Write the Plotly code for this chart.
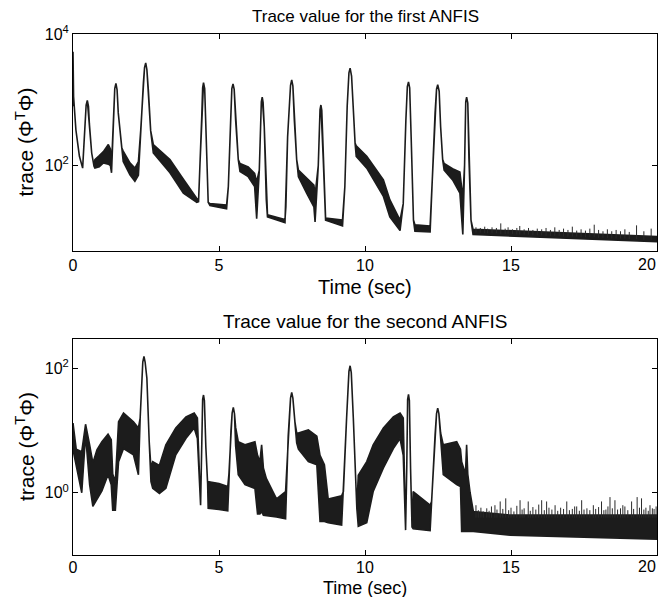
import numpy as np
import plotly.graph_objects as go

# ---------------- data (log10 of trace) ----------------
# First ANFIS: time points and upper edge of the trace
top_t = [0.00, 0.02, 0.10, 0.22, 0.33, 0.40, 0.45, 0.49, 0.53, 0.56, 0.64, 0.72, 0.75, 0.90, 1.04, 1.21,
         1.28, 1.32, 1.38, 1.43, 1.47, 1.51, 1.55, 1.67, 1.72, 1.95, 2.12, 2.24, 2.32, 2.41, 2.45, 2.49,
         2.53, 2.58, 2.66, 2.75, 3.32, 3.78, 4.24, 4.30, 4.35, 4.41, 4.44, 4.47, 4.51, 4.55, 4.63, 4.69,
         5.26, 5.32, 5.40, 5.44, 5.48, 5.52, 5.57, 5.66, 5.72, 6.00, 6.22, 6.29, 6.38, 6.43, 6.45, 6.48,
         6.51, 6.55, 6.62, 6.66, 7.26, 7.29, 7.35, 7.45, 7.49, 7.53, 7.58, 7.66, 7.72, 8.00, 8.25, 8.29,
         8.40, 8.46, 8.49, 8.52, 8.57, 8.65, 9.23, 9.31, 9.39, 9.45, 9.49, 9.54, 9.62, 9.66, 9.70, 10.06,
         10.63, 10.85, 11.20, 11.31, 11.40, 11.45, 11.49, 11.53, 11.58, 11.66, 11.71, 12.23, 12.32, 12.40,
         12.45, 12.49, 12.54, 12.59, 12.66, 12.71, 13.00, 13.25, 13.35, 13.41, 13.45, 13.48, 13.52, 13.56,
         13.63, 13.70, 20.00]
top_hi = [3.73, 3.05, 2.54, 2.14, 1.96, 2.53, 2.92, 2.99, 2.90, 2.64, 2.19, 1.99, 2.09, 2.15, 2.21, 2.32,
          2.25, 2.00, 2.53, 3.17, 3.25, 3.15, 2.80, 2.27, 2.22, 2.04, 1.96, 2.06, 2.54, 3.25, 3.49, 3.56,
          3.46, 3.15, 2.53, 2.32, 2.09, 1.79, 1.50, 1.46, 2.04, 2.75, 3.18, 3.26, 3.17, 2.64, 1.44, 1.42,
          1.40, 1.68, 2.69, 3.17, 3.24, 3.16, 2.69, 2.09, 2.03, 1.98, 1.88, 1.75, 1.93, 2.69, 2.97, 3.04,
          2.96, 2.59, 1.48, 1.25, 1.18, 1.37, 2.44, 3.22, 3.30, 3.21, 2.69, 2.09, 1.93, 1.80, 1.70, 1.55,
          2.00, 2.85, 2.92, 2.84, 2.10, 1.20, 1.17, 1.68, 2.90, 3.41, 3.48, 3.36, 2.69, 2.34, 2.30, 2.14,
          1.78, 1.48, 1.17, 1.42, 2.69, 3.20, 3.27, 3.18, 2.44, 1.17, 1.10, 1.08, 1.93, 2.80,
          3.16, 3.23, 3.13, 2.59, 2.09, 2.03, 1.95, 1.90, 1.50, 2.00, 2.97, 3.04, 2.95, 2.10,
          1.17, 1.03, 0.92]
# lower edge where the trace is a noisy band (elsewhere lower edge = upper edge)
top_band_t = [0.00, 0.75, 0.90, 1.04, 1.21, 1.28, 1.32, 1.72, 1.95, 2.12, 2.24, 2.75, 3.32, 3.78, 4.24,
              4.30, 4.69, 5.26, 5.72, 6.00, 6.22, 6.29, 6.66, 7.26, 7.72, 8.00, 8.25, 8.29, 8.65, 9.23,
              9.70, 10.06, 10.63, 10.85, 11.20, 11.71, 12.23, 12.71, 13.00, 13.25, 13.35, 13.70, 20.00]
top_band_lo = [2.90, 1.96, 1.98, 2.04, 2.02, 2.00, 1.89, 2.06, 1.86, 1.76, 1.85, 2.19, 1.89, 1.58, 1.44,
               1.45, 1.39, 1.34, 1.91, 1.83, 1.68, 1.19, 1.22, 1.13, 1.83, 1.58, 1.37, 1.14, 1.17, 1.08,
               2.14, 1.96, 1.53, 1.22, 1.01, 1.00, 0.99, 1.93, 1.78, 1.58, 0.95, 0.95, 0.84]
# noise spikes on the final floor of the first trace
top_spk_t = [13.8, 13.95, 14.1, 14.2, 14.35, 14.5, 14.65, 14.8, 14.9, 15.05, 15.2, 15.3, 15.45, 15.6,
             15.75, 15.9, 16.05, 16.2, 16.35, 16.5, 16.65, 16.8, 16.95, 17.1, 17.25, 17.4, 17.55, 17.7,
             17.85, 18.0, 18.15, 18.3, 18.45, 18.6, 18.75, 18.9, 19.05, 19.3, 19.55, 19.8]
top_spk_base = [0.98, 0.98, 0.97, 0.97, 0.97, 0.97, 0.96, 0.96, 0.96, 0.96, 0.95, 0.95, 0.95, 0.95,
                0.94, 0.94, 0.94, 0.93, 0.93, 0.93, 0.93, 0.92, 0.92, 0.92, 0.92, 0.91, 0.91, 0.91,
                0.91, 0.90, 0.90, 0.90, 0.89, 0.89, 0.89, 0.89, 0.88, 0.88, 0.87, 0.87]
top_spk_top = [1.06, 1.05, 1.07, 1.04, 1.06, 1.05, 1.12, 1.04, 1.06, 1.03, 1.05, 1.08, 1.03, 1.05,
               1.02, 1.04, 1.03, 1.05, 1.02, 1.06, 1.02, 1.04, 1.02, 1.07, 1.01, 1.03, 1.01, 1.04,
               1.10, 1.02, 1.00, 1.03, 1.00, 1.02, 1.00, 1.03, 0.99, 1.09, 1.00, 1.04]

# Second ANFIS
bot_t = [0.00, 0.11, 0.30, 0.43, 0.57, 0.68, 0.82, 0.99, 1.20, 1.31, 1.36, 1.45, 1.56, 1.73, 2.07, 2.24,
         2.30, 2.35, 2.39, 2.43, 2.47, 2.53, 2.61, 2.67, 2.73, 2.96, 3.18, 3.52, 3.87, 4.15, 4.26, 4.37,
         4.44, 4.47, 4.50, 4.55, 4.61, 4.63, 5.00, 5.30, 5.34, 5.41, 5.45, 5.49, 5.53, 5.57, 5.66, 5.89,
         6.23, 6.32, 6.40, 6.46, 6.52, 6.62, 6.97, 7.28, 7.37, 7.45, 7.49, 7.53, 7.60, 7.66, 7.72, 8.06,
         8.35, 8.46, 8.61, 8.74, 9.20, 9.26, 9.37, 9.45, 9.49, 9.53, 9.60, 9.72, 9.77, 10.06, 10.28, 10.63,
         10.97, 11.20, 11.31, 11.39, 11.43, 11.46, 11.49, 11.52, 11.56, 11.61, 11.65, 12.23, 12.28, 12.40,
         12.45, 12.49, 12.53, 12.59, 12.68, 13.14, 13.27, 13.31, 13.44, 13.48, 13.52, 13.60, 13.71, 14.97,
         20.00]
bot_hi = [1.12, 0.70, 0.66, 1.10, 0.77, 0.48, 0.69, 0.82, 0.94, 0.85, 0.30, 0.18, 1.14, 1.28, 1.14, 1.04,
          1.20, 1.68, 2.10, 2.19, 2.10, 1.84, 0.82, 0.40, 0.50, 0.44, 0.77, 1.04, 1.22, 1.28, 1.20, -0.20,
          1.50, 1.57, 1.48, 0.73, 0.15, 0.18, 0.15, 0.10, 0.30, 1.00, 1.28, 1.37, 1.27, 1.05, 0.82, 0.77,
          0.82, 0.60, 0.50, 0.77, 0.40, 0.23, -0.10, 0.02, 0.91, 1.52, 1.61, 1.52, 1.14, 0.96, 0.96, 1.01,
          0.91, 0.60, 0.45, -0.10, -0.05, 0.02, 1.20, 1.95, 2.04, 1.93, 1.20, -0.25, 0.28, 0.50, 0.77, 1.04,
          1.22, 1.28, 1.20, -0.60, 0.40, 1.50, 1.58, 1.48, 0.40, -0.55, 0.02, -0.20, -0.14, 0.93,
          1.27, 1.36, 1.27, 0.96, 0.77, 0.82, 0.70, 0.50, 0.30, 0.77, 0.30, 0.00, -0.30, -0.36,
          -0.36]
bot_band_t = [0.00, 0.11, 0.30, 0.43, 0.57, 0.68, 0.82, 0.99, 1.20, 1.31, 1.36, 1.45, 1.56, 1.73, 2.07,
              2.24, 2.67, 2.73, 2.96, 3.18, 3.52, 3.87, 4.15, 4.26, 4.63, 5.00, 5.30, 5.57, 5.66, 5.89,
              6.23, 6.32, 6.40, 6.46, 6.52, 6.62, 6.97, 7.28, 7.66, 7.72, 8.06, 8.35, 8.46, 8.61, 8.74,
              9.20, 9.77, 10.06, 10.28, 10.63, 10.97, 11.20, 11.31, 11.65, 12.23, 12.68, 13.14, 13.27,
              13.31, 13.44, 13.48, 13.52, 13.60, 13.71, 14.97, 20.00]
bot_band_lo = [0.69, 0.45, 0.00, 0.93, 0.13, -0.22, -0.12, 0.03, 0.29, 0.13, -0.28, -0.28, 0.50, 0.71, 0.61,
               0.29, 0.18, 0.07, -0.01, 0.07, 0.61, 0.875, 1.04, 0.87, -0.25, -0.27, -0.29, 0.75, 0.29, 0.13,
               0.07, -0.34, -0.34, -0.30, -0.36, -0.37, -0.39, -0.42, 0.80, 0.70, 0.50, 0.45, -0.46, -0.46,
               -0.48, -0.52, -0.54, -0.48, 0.02, 0.40, 0.71, 0.87, 0.60, -0.58, -0.61, 0.29, 0.13, 0.10,
               -0.62, -0.62, -0.62, -0.62, -0.62, -0.62, -0.68, -0.745]
bot_spk_t = [13.80, 13.88, 13.97, 14.05, 14.17, 14.25, 14.33, 14.45, 14.52, 14.63,
             14.72, 14.82, 14.92, 15.0, 15.1, 15.2, 15.31, 15.38, 15.45, 15.59,
             15.66, 15.75, 15.85, 15.95, 16.05, 16.14, 16.22, 16.30, 16.40, 16.51,
             16.6, 16.7, 16.8, 16.91, 17.0, 17.1, 17.18, 17.25, 17.34, 17.42,
             17.5, 17.6, 17.7, 17.82, 17.9, 18.0, 18.10, 18.18, 18.25, 18.32,
             18.39, 18.47, 18.56, 18.65, 18.75, 18.83, 18.9, 19.0, 19.13, 19.2,
             19.32, 19.4, 19.47, 19.55, 19.62, 19.7, 19.76, 19.84, 19.9, 19.97]
bot_spk_top = [-0.20, -0.28, -0.24, -0.30, -0.25, -0.29, -0.22, -0.20, -0.27, -0.14,
               -0.26, -0.09, -0.28, -0.24, -0.30, -0.21, -0.12, -0.27, -0.25, -0.14,
               -0.29, -0.23, -0.27, -0.19, -0.12, -0.28, -0.14, -0.24, -0.27, -0.20,
               -0.29, -0.24, -0.26, -0.14, -0.28, -0.26, -0.22, -0.22, -0.29, -0.12,
               -0.27, -0.25, -0.28, -0.20, -0.26, -0.23, -0.14, -0.28, -0.27, -0.22,
               -0.07, -0.25, -0.12, -0.27, -0.25, -0.20, -0.22, -0.28, -0.14, -0.26,
               -0.07, -0.24, -0.09, -0.27, -0.24, -0.29, -0.20, -0.25, -0.26, -0.22]
bot_spk_base = -0.40

x_ticks = [0, 5, 10, 15, 20]
x_ticklabels = ["0", "5", "10", "15", "20"]
top_yticks = [2, 4]
bot_yticks = [0, 2]

INK = "#1c1c1c"
FONT = "Liberation Sans, Arial, Helvetica, sans-serif"


def lower_edge(t, hi, band_t, band_lo):
    lo = list(hi)
    pos = {round(v, 3): i for i, v in enumerate(t)}
    for bt, bl in zip(band_t, band_lo):
        lo[pos[round(bt, 3)]] = bl
    return lo


def band(t, lo, hi, xa, ya):
    t = list(t)
    xs = t + t[::-1]
    ys = list(10 ** np.array(hi)) + list(10 ** np.array(lo))[::-1]
    return go.Scatter(x=xs, y=ys, xaxis=xa, yaxis=ya, mode="lines", fill="toself",
                      fillcolor=INK, line=dict(color=INK, width=1.6), hoverinfo="skip", showlegend=False)


def spikes(t, base, top, xa, ya):
    xs, ys = [], []
    if np.isscalar(base):
        base = [base] * len(t)
    for ti, b, tp in zip(t, base, top):
        xs += [ti, ti, None]
        ys += [10 ** b, 10 ** tp, None]
    return go.Scatter(x=xs, y=ys, xaxis=xa, yaxis=ya, mode="lines",
                      line=dict(color="#2a2a2a", width=1), hoverinfo="skip", showlegend=False)


top_lo = lower_edge(top_t, top_hi, top_band_t, top_band_lo)
bot_lo = lower_edge(bot_t, bot_hi, bot_band_t, bot_band_lo)

fig = go.Figure()
fig.add_trace(band(top_t, top_lo, top_hi, "x", "y"))
fig.add_trace(spikes(top_spk_t, top_spk_base, top_spk_top, "x", "y"))
fig.add_trace(band(bot_t, bot_lo, bot_hi, "x2", "y2"))
fig.add_trace(spikes(bot_spk_t, bot_spk_base, bot_spk_top, "x2", "y2"))

TICK_SIZE = 16
axis_common = dict(showline=True, linecolor="black", linewidth=1, mirror="ticks", ticks="inside",
                   ticklen=5, tickcolor="black", showgrid=False, zeroline=False,
                   tickfont=dict(family=FONT, size=TICK_SIZE, color="black"))
# the last x label sits on the page edge; it is drawn right-aligned as an annotation below
x_common = dict(range=[0, 20], tickvals=x_ticks, ticktext=x_ticklabels[:-1] + [""], **axis_common)

# the page body adds an 8 px margin on every side, so the figure is 16 px smaller than the window
fig.update_layout(
    width=651, height=589,
    margin=dict(l=65, r=2, t=26, b=42),
    paper_bgcolor="white", plot_bgcolor="white",
    xaxis=dict(domain=[0, 1], anchor="y", **x_common),
    yaxis=dict(domain=[0.5835, 1], anchor="x", type="log", range=[0.7, 4],
               tickvals=[10 ** v for v in top_yticks],
               ticktext=["10<sup>%d</sup>" % v for v in top_yticks], **axis_common),
    xaxis2=dict(domain=[0, 1], anchor="y2", ticklabelstandoff=-2, **x_common),
    yaxis2=dict(domain=[0, 0.4146], anchor="x2", type="log", range=[-1.0, 2.47],
                tickvals=[10 ** v for v in bot_yticks],
                ticktext=["10<sup>%d</sup>" % v for v in bot_yticks], **axis_common),
)

ann_font = dict(family=FONT, color="black")
anns = [
    dict(text="Trace value for the first ANFIS", x=0.5, y=1.0345, size=17),
    dict(text="Trace value for the second ANFIS", x=0.5, y=0.449, size=19),
    dict(text="Time (sec)", x=0.5, y=0.514, size=20),
    dict(text="Time (sec)", x=0.5, y=-0.0625, size=18),
]
for a in anns:
    fig.add_annotation(text=a["text"], xref="paper", yref="paper", x=a["x"], y=a["y"],
                       xanchor="center", yanchor="middle", showarrow=False,
                       font=dict(size=a["size"], **ann_font))
for yc in [0.7918, 0.2073]:
    fig.add_annotation(text="trace (Φ<sup>T</sup>Φ)", xref="paper", yref="paper", x=-0.082, y=yc,
                       xanchor="center", yanchor="middle", textangle=-90, showarrow=False,
                       font=dict(size=21, **ann_font))
# "20" labels at the right edge (x axis label row of each panel)
for xa_y, ys in [(0.5835, -3), (0.0, -1)]:
    fig.add_annotation(text=x_ticklabels[-1], xref="paper", yref="paper", x=1.0017, y=xa_y,
                       xanchor="right", yanchor="top", yshift=ys, showarrow=False,
                       font=dict(size=TICK_SIZE, **ann_font))

fig.write_html("out.html")
